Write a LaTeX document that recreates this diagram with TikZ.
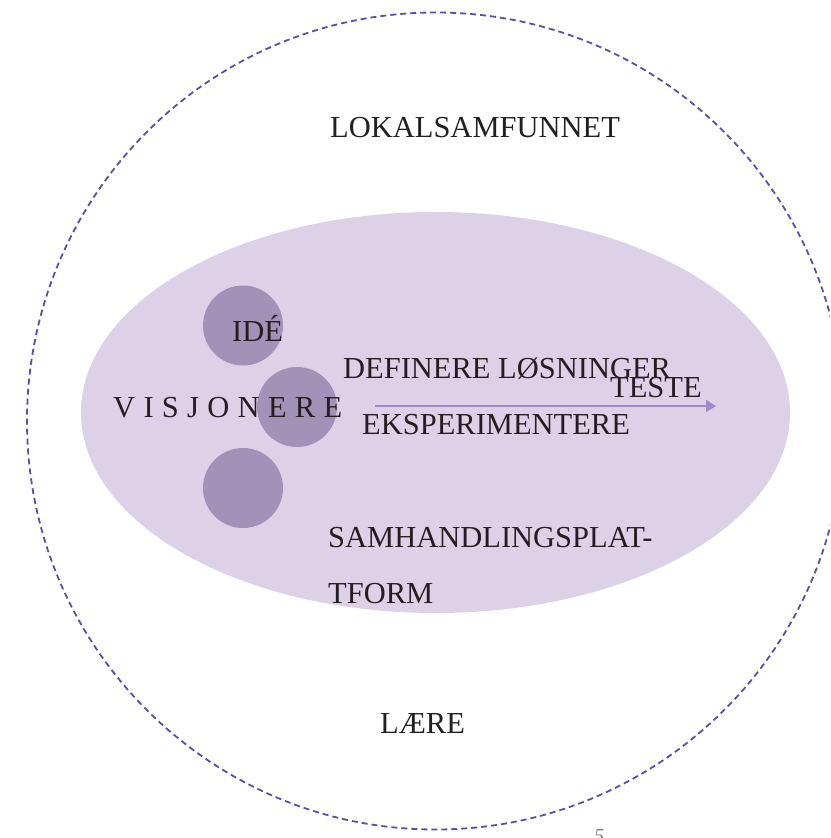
\documentclass[tikz,border=0pt]{standalone}
\usepackage{fontspec}
\setmainfont{Liberation Serif}
\usetikzlibrary{arrows.meta}
\definecolor{dashc}{HTML}{5B4EA6}
\definecolor{ellc}{HTML}{DCD1E7}
\definecolor{dotc}{HTML}{A193B7}
\definecolor{arrc}{HTML}{9A8CC6}
\definecolor{txtc}{HTML}{231F20}
\newcommand{\gp}{\hspace{8.3pt}}
\tikzset{
  lbl/.style={inner sep=0pt, anchor=base west, text=txtc, font=\fontsize{30.5}{34}\selectfont},
  dot/.style={circle, fill=dotc, minimum size=80pt, inner sep=0pt},
}
\begin{document}
\begin{tikzpicture}[x=1pt,y=-1pt]
\useasboundingbox (0,0) rectangle (830,838);
\clip (0,0) rectangle (830,838);
\fill[white] (0,0) rectangle (830,838);
% outer dashed circle
\draw[dashc, line width=1.8pt, dash pattern=on 6pt off 4pt] (435.5,421) circle (408.5);
% ellipse
\fill[ellc] (435.5,412.5) ellipse (354.5 and 200.5);
% small circles
\node[dot] (c1) at (243,325.5) {};
\node[dot] (c2) at (297,407) {};
\node[dot] (c3) at (243,488) {};
% labels
\node[lbl] (lok) at (330,137) {LOKALSAMFUNNET};
\node[lbl] (ide) at (232,341) {IDÉ};
\node[lbl] (vis) at (113,417) {V\gp I\gp S\gp J\gp O\gp N\gp E\gp R\gp E};
\node[lbl] (def) at (343,378) {DEFINERE LØSNINGER};
\node[lbl] (tes) at (610,397) {TESTE};
\node[lbl] (eks) at (362,434) {EKSPERIMENTERE};
\node[lbl] (sam) at (328,547) {SAMHANDLINGSPLAT-};
\node[lbl] (tfo) at (328,603) {TFORM};
\node[lbl] (lae) at (380,733) {LÆRE};
\node[inner sep=0pt, anchor=north, text=gray, font=\fontsize{20}{22}\itshape\selectfont] (pg) at (599,829) {5};
% arrow
\coordinate (as) at (375,406);
\coordinate (ae) at (716,406);
\draw[arrc, line width=1.5pt, -{Triangle[length=10pt,width=12pt]}] (as) -- (ae);
\end{tikzpicture}
\end{document}
